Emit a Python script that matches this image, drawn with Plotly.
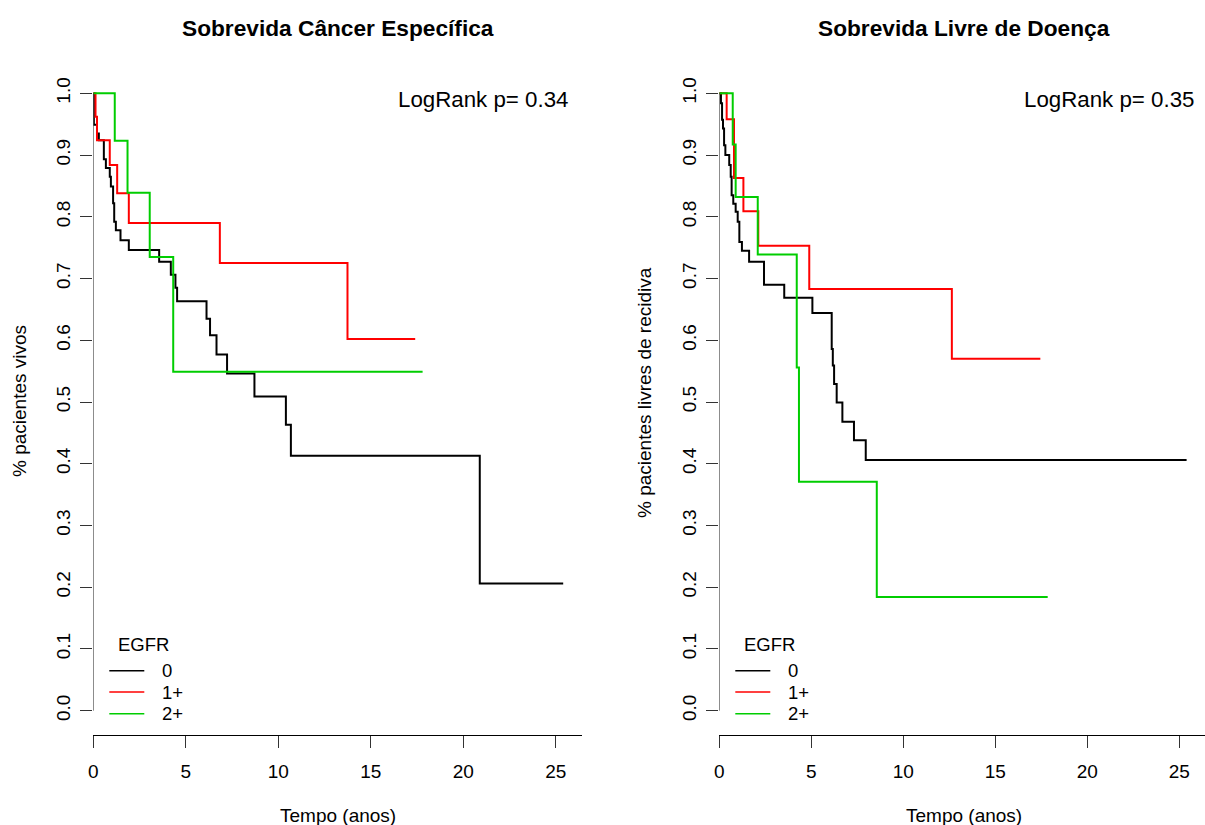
import plotly.graph_objects as go

# ---------------- data ----------------
# Panel 1: Sobrevida Câncer Específica
css_t_0 = [0, 0.03, 0.2, 0.3, 0.57, 0.68, 0.89, 0.95, 1.07, 1.13, 1.22, 1.47, 1.92,
           3.56, 4.19, 4.44, 4.53, 6.12, 6.31, 6.66, 7.23, 8.71, 10.41, 10.68, 20.89, 25.4]
css_s_0 = [1.0, 0.949, 0.935, 0.924, 0.893, 0.879, 0.865, 0.849, 0.822, 0.792, 0.778, 0.762, 0.746,
           0.727, 0.706, 0.685, 0.663, 0.635, 0.608, 0.577, 0.546, 0.509, 0.463, 0.413, 0.206, 0.206]
css_t_1 = [0, 0.12, 0.2, 0.89, 1.29, 1.92, 6.84, 13.74, 17.4]
css_s_1 = [1.0, 0.962, 0.924, 0.884, 0.838, 0.790, 0.725, 0.602, 0.602]
css_t_2 = [0, 1.16, 1.85, 3.05, 4.32, 17.8]
css_s_2 = [1.0, 0.923, 0.839, 0.735, 0.549, 0.549]

# Panel 2: Sobrevida Livre de Doença
dfs_t_0 = [0, 0.09, 0.15, 0.2, 0.26, 0.33, 0.54, 0.62, 0.67, 0.76, 0.89, 1.0, 1.09, 1.23, 1.62,
           2.43, 3.53, 5.06, 6.11, 6.17, 6.24, 6.38, 6.69, 7.32, 7.96, 25.4]
dfs_s_0 = [1.0, 0.984, 0.957, 0.943, 0.916, 0.900, 0.884, 0.865, 0.835, 0.821, 0.808, 0.792, 0.759, 0.745, 0.727,
           0.690, 0.669, 0.644, 0.586, 0.559, 0.529, 0.499, 0.468, 0.438, 0.406, 0.406]
dfs_t_1 = [0, 0.40, 0.80, 1.31, 2.12, 4.89, 12.64, 17.45]
dfs_s_1 = [1.0, 0.958, 0.863, 0.809, 0.753, 0.683, 0.570, 0.570]
dfs_t_2 = [0, 0.73, 0.89, 2.09, 4.21, 4.33, 8.56, 17.85]
dfs_s_2 = [1.0, 0.917, 0.832, 0.739, 0.556, 0.371, 0.184, 0.184]

groups = ["0", "1+", "2+"]
colors = ["#000000", "#FF0000", "#00CD00"]
titles = ["Sobrevida Câncer Específica", "Sobrevida Livre de Doença"]
ytitles = ["% pacientes vivos", "% pacientes livres de recidiva"]
pvalues = ["LogRank p= 0.34", "LogRank p= 0.35"]
xtick_vals = [0, 5, 10, 15, 20, 25]
ytick_vals = [0.0, 0.1, 0.2, 0.3, 0.4, 0.5, 0.6, 0.7, 0.8, 0.9, 1.0]

# ---------------- layout geometry (pixels) ----------------
W, H = 1205, 825
FONT = "Liberation Sans, Arial, sans-serif"
def fx(px): return px / W
def fy(py): return 1 - py / H

panel_x = [(93.3, 581.7), (719.3, 1205.0)]
plot_top, plot_bot = 68.6, 735.4

fig = go.Figure()

series = [
    [(css_t_0, css_s_0), (css_t_1, css_s_1), (css_t_2, css_s_2)],
    [(dfs_t_0, dfs_s_0), (dfs_t_1, dfs_s_1), (dfs_t_2, dfs_s_2)],
]

for p in range(2):
    xa = "x" if p == 0 else "x2"
    ya = "y" if p == 0 else "y2"
    for g, (t, s) in enumerate(series[p]):
        fig.add_trace(go.Scatter(x=t, y=s, mode="lines", line_shape="hv",
                                 line=dict(color=colors[g], width=2),
                                 name=groups[g], showlegend=False,
                                 xaxis=xa, yaxis=ya))

axis_common_x = dict(range=[0, 26.4], tickvals=xtick_vals, ticks="outside", ticklen=12,
                     tickcolor="#333333", showline=True, linecolor="black", linewidth=1,
                     showgrid=False, zeroline=False, automargin=False,
                     tickfont=dict(family=FONT, size=19, color="black"),
                     ticklabelstandoff=7)
axis_common_y = dict(range=[-0.04, 1.04], tickvals=ytick_vals, tickformat=".1f",
                     ticks="outside", ticklen=12, tickcolor="#333333", showline=False,
                     showgrid=False, zeroline=False, tickangle=-90, automargin=False,
                     tickfont=dict(family=FONT, size=19, color="black"),
                     ticklabelstandoff=3)

fig.update_layout(
    width=W, height=H, margin=dict(l=0, r=0, t=0, b=0, autoexpand=False),
    paper_bgcolor="white", plot_bgcolor="white",
    xaxis=dict(domain=[fx(panel_x[0][0]), fx(panel_x[0][1])], anchor="y", **axis_common_x),
    yaxis=dict(domain=[fy(plot_bot), fy(plot_top)], anchor="x", **axis_common_y),
    xaxis2=dict(domain=[fx(panel_x[1][0]), fx(panel_x[1][1])], anchor="y2", **axis_common_x),
    yaxis2=dict(domain=[fy(plot_bot), fy(plot_top)], anchor="x2", **axis_common_y),
    showlegend=False,
)

shapes = []
annotations = []
ytitle_cy = [401, 393]
for p in range(2):
    xa = "x" if p == 0 else "x2"
    ya = "y" if p == 0 else "y2"
    x0, x1 = panel_x[p]
    off = x0 - 93.3
    # y axis line from 0 to 1
    shapes.append(dict(type="line", xref=xa, yref=ya, x0=0, x1=0, y0=0, y1=1,
                       line=dict(color="#333333", width=1)))
    # title
    annotations.append(dict(text="<b>" + titles[p] + "</b>", x=fx((93.3 + 581.7) / 2 + off), y=fy(28),
                            xref="paper", yref="paper", showarrow=False, xanchor="center", yanchor="middle",
                            font=dict(family=FONT, size=22.7, color="black")))
    # x title
    annotations.append(dict(text="Tempo (anos)", x=fx(338 + off), y=fy(815),
                            xref="paper", yref="paper", showarrow=False, xanchor="center", yanchor="middle",
                            font=dict(family=FONT, size=19, color="black")))
    # y title
    annotations.append(dict(text=ytitles[p], x=fx(19 + off), y=fy(ytitle_cy[p]), textangle=-90,
                            xref="paper", yref="paper", showarrow=False, xanchor="center", yanchor="middle",
                            font=dict(family=FONT, size=19, color="black")))
    # log rank
    annotations.append(dict(text=pvalues[p], x=fx(570 + off), y=fy(99),
                            xref="paper", yref="paper", showarrow=False, xanchor="right", yanchor="middle",
                            font=dict(family=FONT, size=22.3, color="black")))
    # legend
    annotations.append(dict(text="EGFR", x=fx(116 + off), y=fy(644),
                            xref="paper", yref="paper", showarrow=False, xanchor="left", yanchor="middle",
                            font=dict(family=FONT, size=18.5, color="black")))
    rows = [670.7, 692.0, 713.8]
    for g in range(3):
        shapes.append(dict(type="line", xref="paper", yref="paper",
                           x0=fx(109.3 + off), x1=fx(144.3 + off), y0=fy(rows[g]), y1=fy(rows[g]),
                           line=dict(color=colors[g], width=1.6)))
        annotations.append(dict(text=groups[g], x=fx(160 + off), y=fy(rows[g]),
                                xref="paper", yref="paper", showarrow=False, xanchor="left", yanchor="middle",
                                font=dict(family=FONT, size=18.5, color="black")))

fig.update_layout(shapes=shapes, annotations=annotations)
fig.write_html("out.html")
